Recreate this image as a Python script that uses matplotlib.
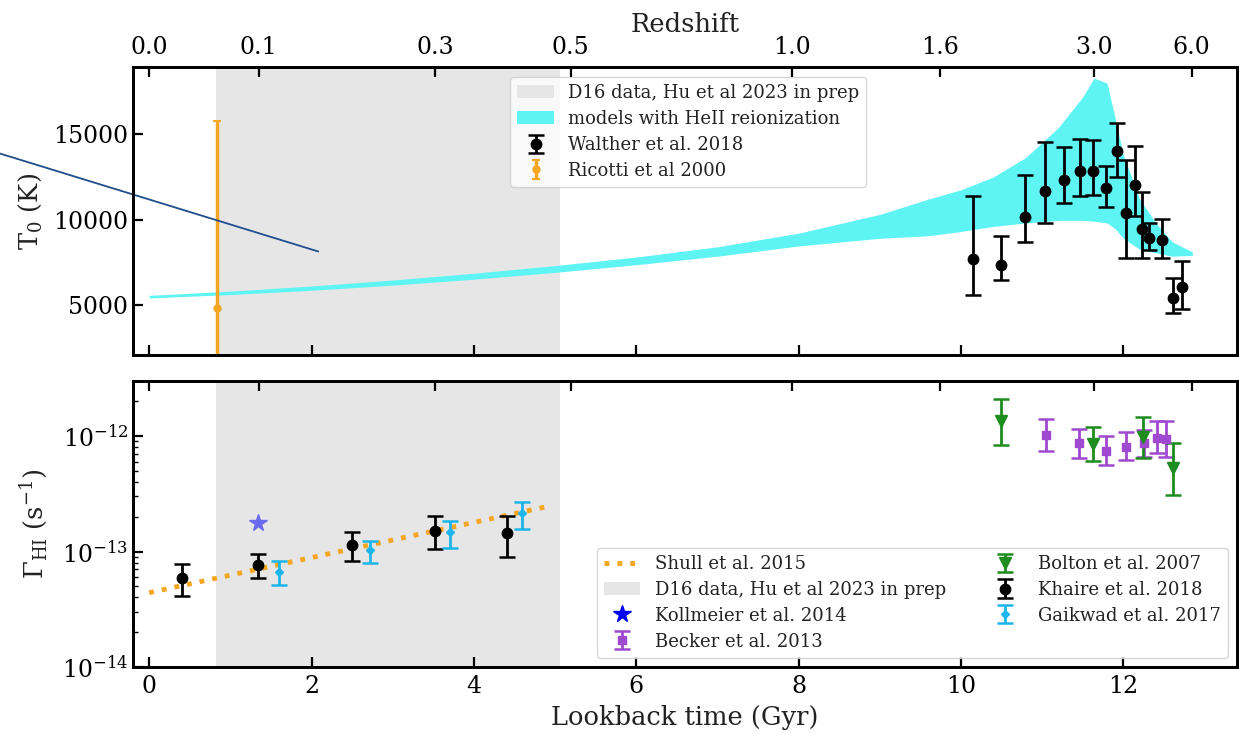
import numpy as np
import matplotlib
matplotlib.use("Agg")
import matplotlib.pyplot as plt
from matplotlib.lines import Line2D
from matplotlib.ticker import FixedLocator, NullFormatter

plt.rcParams.update({
    "font.family": ["DejaVu Serif"],
    "mathtext.fontset": "dejavuserif",
    "axes.linewidth": 2.0,
    "xtick.major.width": 1.6,
    "ytick.major.width": 1.6,
    "xtick.major.size": 7,
    "ytick.major.size": 7,
    "ytick.minor.size": 3.5,
    "ytick.minor.width": 1.0,
    "xtick.direction": "in",
    "ytick.direction": "in",
    "xtick.labelsize": 17,
    "ytick.labelsize": 17,
    "axes.labelsize": 18.5,
    "legend.fontsize": 13,
    "legend.labelspacing": 0.44,
})

# ---------------- data ----------------
# redshift tick positions expressed as lookback time (Gyr)
z_labels = ["0.0", "0.1", "0.3", "0.5", "1.0", "1.6", "3.0", "6.0"]
z_lookback = [0.0, 1.35, 3.52, 5.19, 7.92, 9.74, 11.64, 12.84]

# D16 data window (Gyr)
d16_range = [0.82, 5.06]

# HeII reionization model envelope for T0
band_t = [0.0, 1.0, 2.0, 3.0, 4.0, 5.0, 6.0, 7.0, 8.0, 9.0, 9.6, 10.0, 10.4,
          10.8, 11.2, 11.5, 11.64, 11.8, 11.9, 12.0, 12.2, 12.4, 12.6, 12.85]
band_hi = [5550, 5800, 6100, 6450, 6850, 7300, 7800, 8400, 9200, 10300, 11200,
           11750, 12500, 13650, 15400, 17200, 18300, 18000, 15900, 13800, 11200,
           9800, 8700, 8100]
band_lo = [5400, 5600, 5850, 6150, 6500, 6900, 7350, 7850, 8450, 8900, 9050,
           9300, 9600, 9800, 9950, 9950, 9900, 9800, 9450, 8900, 8250, 8050,
           7850, 7900]

# Walther et al. 2018
walther_t = [10.15, 10.49, 10.79, 11.04, 11.27, 11.46, 11.63, 11.79, 11.92,
             12.03, 12.14, 12.23, 12.32, 12.48, 12.61, 12.72]
walther_T = [7700, 7330, 10150, 11650, 12340, 12830, 12860, 11850, 14030,
             10390, 12050, 9450, 8930, 8790, 5380, 6020]
walther_hi = [11370, 9020, 12630, 14540, 14230, 14720, 14680, 13160, 15650,
              13470, 14290, 11600, 9800, 10060, 6590, 7540]
walther_lo = [5560, 6450, 8670, 9770, 10950, 11360, 11460, 10720, 12500,
              7720, 10200, 7720, 8210, 7720, 4490, 4740]

# Ricotti et al 2000
ricotti_t = [0.84]
ricotti_T = [4800]
ricotti_hi = [15800]
ricotti_lo = [0]

# pointer line drawn over the T0 panel (lookback time, T0)
pointer_t = [-1.83, 2.08]
pointer_T = [13860, 8130]

# Shull et al. 2015 (Gamma_HI, s^-1)
shull_t = [0.0, 4.9]
shull_g = [4.4e-14, 2.45e-13]

# Kollmeier et al. 2014
kollmeier_t = [1.34]
kollmeier_g = [1.78e-13]

# Khaire et al. 2018
khaire_t = [0.41, 1.34, 2.50, 3.52, 4.41]
khaire_g = [5.9e-14, 7.7e-14, 1.14e-13, 1.51e-13, 1.44e-13]
khaire_hi = [7.8e-14, 9.5e-14, 1.49e-13, 2.03e-13, 2.03e-13]
khaire_lo = [4.1e-14, 5.9e-14, 8.2e-14, 1.05e-13, 8.9e-14]

# Gaikwad et al. 2017
gaikwad_t = [1.60, 2.72, 3.71, 4.59]
gaikwad_g = [6.6e-14, 1.03e-13, 1.49e-13, 2.14e-13]
gaikwad_hi = [8.3e-14, 1.24e-13, 1.85e-13, 2.70e-13]
gaikwad_lo = [5.1e-14, 7.9e-14, 1.08e-13, 1.57e-13]

# Becker et al. 2013
becker_t = [11.05, 11.45, 11.78, 12.03, 12.26, 12.41, 12.53]
becker_g = [1.03e-12, 8.75e-13, 7.5e-13, 8.0e-13, 8.7e-13, 9.7e-13, 9.5e-13]
becker_hi = [1.41e-12, 1.16e-12, 1.0e-12, 1.08e-12, 1.12e-12, 1.35e-12, 1.35e-12]
becker_lo = [7.5e-13, 6.4e-13, 5.6e-13, 6.2e-13, 6.6e-13, 7.2e-13, 6.6e-13]

# Bolton et al. 2007
bolton_t = [10.49, 11.63, 12.24, 12.61]
bolton_g = [1.36e-12, 8.6e-13, 9.8e-13, 5.3e-13]
bolton_hi = [2.1e-12, 1.2e-12, 1.46e-12, 8.75e-13]
bolton_lo = [8.4e-13, 6.1e-13, 6.5e-13, 3.1e-13]

# Gamma_HI axis range and decade ticks
gamma_lim = (1e-14, 3e-12)
gamma_major = [1e-14, 1e-13, 1e-12]


def asym(val, lo, hi):
    val = np.asarray(val, float)
    return [val - np.asarray(lo, float), np.asarray(hi, float) - val]


GRAY = "#e6e6e6"
TXT = "#222222"
XLIM = (-0.2, 13.4)

fig = plt.figure(figsize=(12.39, 7.34), dpi=100)
ax1 = fig.add_axes([0.1073, 0.5163, 0.8911, 0.3924])
ax2 = fig.add_axes([0.1073, 0.0913, 0.8911, 0.3896])

# ---------------- T0 panel ----------------
span1 = ax1.axvspan(*d16_range, color=GRAY, lw=0, zorder=0,
                    label="D16 data, Hu et al 2023 in prep")
band = ax1.fill_between(band_t, band_lo, band_hi, color="#5ff4f4", lw=0,
                        zorder=1, label="models with HeII reionization")
ew = ax1.errorbar(walther_t, walther_T, yerr=asym(walther_T, walther_lo, walther_hi),
                  fmt="o", color="black", ms=7.5, elinewidth=2.0, capsize=6,
                  capthick=1.8, zorder=4, label="Walther et al. 2018")
er = ax1.errorbar(ricotti_t, ricotti_T, yerr=asym(ricotti_T, ricotti_lo, ricotti_hi),
                  fmt="o", color="#f5a623", ms=5, elinewidth=2.5, capsize=3,
                  capthick=1.5, zorder=4, label="Ricotti et al 2000")
ax1.plot(pointer_t, pointer_T, color="#1f4e8c", lw=1.3, clip_on=False, zorder=6)

ax1.set_xlim(*XLIM)
ax1.set_xticks([0, 2, 4, 6, 8, 10, 12])
ax1.set_ylim(2050, 18950)
ax1.set_yticks([5000, 10000, 15000])
ax1.set_ylabel(r"T$_0$ (K)", color=TXT)
ax1.yaxis.set_label_coords(-0.081, 0.5)
ax1.tick_params(axis="x", labelbottom=False, bottom=True, top=False)
ax1.tick_params(axis="y", left=True, right=False)

leg1 = ax1.legend(handles=[span1, band, ew, er], loc="upper center",
                  bbox_to_anchor=(0.503, 0.985), frameon=True, fancybox=True,
                  borderaxespad=0.3, handlelength=2.0)
for t in leg1.get_texts():
    t.set_color(TXT)

top1 = ax1.twiny()
top1.set_xlim(*XLIM)
top1.set_xticks(z_lookback)
top1.set_xticklabels(z_labels)
top1.tick_params(axis="x", direction="in", length=7, width=1.6, pad=6)
top1.set_xlabel("Redshift", color=TXT, labelpad=3)

# ---------------- Gamma_HI panel ----------------
ax2.set_yscale("log")
span2 = ax2.axvspan(*d16_range, color=GRAY, lw=0, zorder=0,
                    label="D16 data, Hu et al 2023 in prep")
shull, = ax2.plot(shull_t, shull_g, ls=":", lw=3.5, color="#f5a623", zorder=2,
                  label="Shull et al. 2015")
ax2.plot(kollmeier_t, kollmeier_g, ls="none", marker="*", ms=13,
         color="#6b6bef", zorder=3)
kollmeier_h = Line2D([], [], ls="none", marker="*", ms=13, color="blue",
                     label="Kollmeier et al. 2014")
ebk = ax2.errorbar(becker_t, becker_g, yerr=asym(becker_g, becker_lo, becker_hi),
                   fmt="s", color="#9f48d0", ms=6, elinewidth=2.0, capsize=6,
                   capthick=1.8, zorder=3, label="Becker et al. 2013")
ebo = ax2.errorbar(bolton_t, bolton_g, yerr=asym(bolton_g, bolton_lo, bolton_hi),
                   fmt="v", color="#1f8c1f", ms=8, elinewidth=2.0, capsize=6,
                   capthick=1.8, zorder=3, label="Bolton et al. 2007")
ekh = ax2.errorbar(khaire_t, khaire_g, yerr=asym(khaire_g, khaire_lo, khaire_hi),
                   fmt="o", color="black", ms=7.5, elinewidth=2.0, capsize=6,
                   capthick=1.8, zorder=4, label="Khaire et al. 2018")
ega = ax2.errorbar(gaikwad_t, gaikwad_g, yerr=asym(gaikwad_g, gaikwad_lo, gaikwad_hi),
                   fmt="D", color="#1cb5ec", ms=4.5, elinewidth=2.0, capsize=6,
                   capthick=1.8, zorder=4, label="Gaikwad et al. 2017")

ax2.set_ylim(*gamma_lim)
ax2.set_yticks(gamma_major)
minor_pos = [m * d for d in gamma_major for m in range(2, 10)
             if gamma_lim[0] < m * d <= gamma_lim[1]]
ax2.yaxis.set_minor_locator(FixedLocator(minor_pos))
ax2.yaxis.set_minor_formatter(NullFormatter())
ax2.set_xlim(*XLIM)
ax2.set_xticks([0, 2, 4, 6, 8, 10, 12])
ax2.set_xlabel("Lookback time (Gyr)", color=TXT, labelpad=5)
ax2.set_ylabel(r"$\Gamma_{\rm HI}$ (s$^{-1}$)", color=TXT)
ax2.yaxis.set_label_coords(-0.075, 0.5)
ax2.tick_params(axis="y", which="both", left=True, right=False)
ax2.tick_params(axis="x", top=False, pad=6)

leg2 = ax2.legend(handles=[shull, span2, kollmeier_h, ebk, ebo, ekh, ega],
                  loc="lower right", ncol=2, frameon=True, fancybox=True,
                  borderaxespad=0.5, handlelength=2.0, columnspacing=2.3)
for t in leg2.get_texts():
    t.set_color(TXT)

top2 = ax2.twiny()
top2.set_xlim(*XLIM)
top2.set_xticks(z_lookback)
top2.tick_params(axis="x", direction="in", length=7, width=1.6, labeltop=False)

fig.savefig("out.png", dpi=100)
